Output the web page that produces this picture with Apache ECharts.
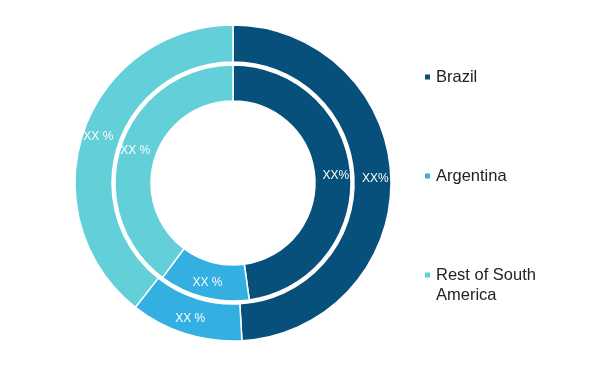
<!DOCTYPE html>
<html>
<head>
<meta charset="utf-8">
<script src="https://cdn.jsdelivr.net/npm/echarts@6/dist/echarts.min.js"></script>
<style>
html,body{margin:0;padding:0;background:#fff;}
#chart{width:600px;height:365px;}
</style>
</head>
<body>
<div id="chart"></div>
<script>
const categories = ['Brazil', 'Argentina', 'Rest of South America'];
const outerValues = [49.1, 11.5, 39.4];
const innerValues = [47.8, 12.4, 39.8];
const outerLabels = ['XX%', 'XX %', 'XX %'];
const innerLabels = ['XX%', 'XX %', 'XX %'];
const colors = ['#08507c', '#33afe1', '#63cfd8'];

const chart = echarts.init(document.getElementById('chart'), null, {renderer: 'canvas'});

function makeData(values, labels) {
  return categories.map((c, i) => ({
    name: c, value: values[i],
    label: {formatter: labels[i]},
    itemStyle: {color: colors[i]}
  }));
}

const legendBase = {
  orient: 'vertical', left: 418, icon: 'rect', itemWidth: 7, itemHeight: 7, itemGap: 10,
  selectedMode: false,
  textStyle: {fontFamily: 'Liberation Sans', fontSize: 16.5, color: '#222', lineHeight: 20}
};

chart.setOption({
  animation: false,
  color: colors,
  legend: [
    Object.assign({}, legendBase, {top: 62, data: [categories[0]]}),
    Object.assign({}, legendBase, {top: 161, data: [categories[1]]}),
    Object.assign({}, legendBase, {top: 240, data: [categories[2]],
      formatter: function () { return '\nRest of South\nAmerica'; }
    })
  ],
  series: [
    {
      type: 'pie', name: 'outer', center: [233, 183], radius: [121, 158],
      startAngle: 90, clockwise: true, silent: true,
      itemStyle: {borderColor: '#fff', borderWidth: 1.5},
      label: {show: true, position: 'inside', color: '#fff', fontSize: 12, fontFamily: 'Liberation Sans'},
      labelLine: {show: false},
      data: makeData(outerValues, outerLabels)
    },
    {
      type: 'pie', name: 'inner', center: [233, 183], radius: [82, 118],
      startAngle: 90, clockwise: true, silent: true,
      itemStyle: {borderColor: '#fff', borderWidth: 1.5},
      label: {show: true, position: 'inside', color: '#fff', fontSize: 12, fontFamily: 'Liberation Sans'},
      labelLine: {show: false},
      data: makeData(innerValues, innerLabels)
    }
  ]
});
</script>
</body>
</html>
